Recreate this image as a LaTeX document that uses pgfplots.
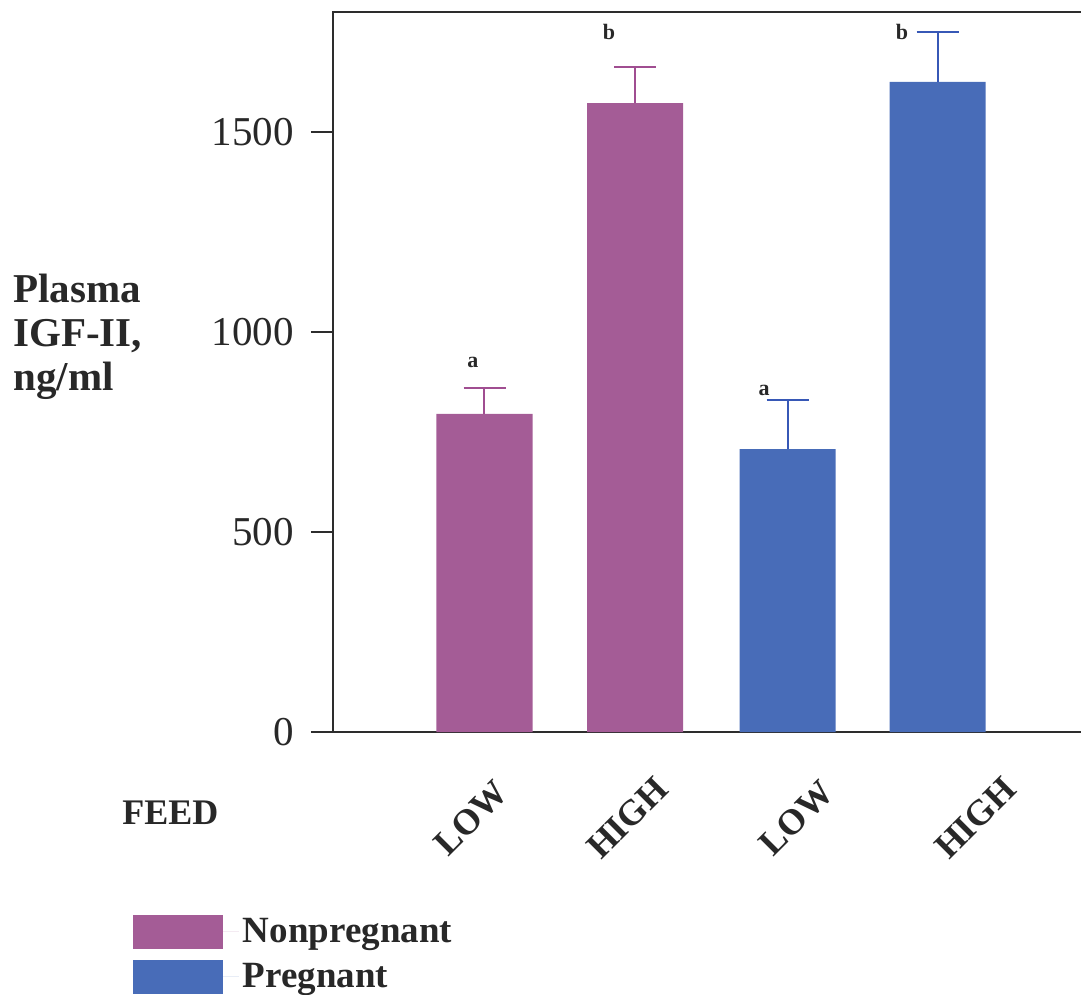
\documentclass[border=0pt]{standalone}
\usepackage{pgfplots}
\pgfplotsset{compat=1.18}
\usepackage{fontspec}
\setmainfont{Liberation Serif}
\definecolor{npink}{RGB}{164,92,150}
\definecolor{pblue}{RGB}{72,108,184}
\definecolor{npinkerr}{RGB}{160,78,145}
\definecolor{pblueerr}{RGB}{55,88,182}
\definecolor{axgray}{RGB}{45,45,45}
\definecolor{txt}{RGB}{40,40,40}

\pgfplotstableread{
x y e
484.5 795 65
635 1572 90
}\nonpreg
\pgfplotstableread{
x y e
787.5 707 123
937.5 1625 125
}\preg
\pgfplotstableread{
x y l
473 912 a
609 1730 b
764 840 a
902 1730 b
}\letters
\pgfplotstableread{
x y
322 500
322 1000
322 1500
}\yticksat

\begin{document}
\begin{tikzpicture}[x=1pt,y=1pt]
\useasboundingbox (-166.5,-131.5) rectangle (374,366);
\begin{axis}[
  at={(0,0)}, anchor=south west,
  scale only axis, width=380pt, height=360pt,
  xmin=333, xmax=1093, ymin=0, ymax=1800,
  clip=false,
  axis line style={axgray, line width=1.3pt},
  ytick={0,500,1000,1500},
  yticklabels={0,500,1000,1500},
  ytick pos=left,
  tick align=outside,
  major tick length=11pt,
  major tick style={draw=axgray, line width=1.3pt},
  yticklabel shift=5pt,
  yticklabel style={font=\fontsize{20.5}{24}\selectfont, text=txt},
  xtick={471,627.5,796.5,975.5},
  xticklabels={LOW,HIGH,LOW,HIGH},
  xtick pos=bottom,
  xtick style={draw=none},
  xticklabel style={font=\bfseries\fontsize{18}{20}\selectfont, text=txt, yshift=-32pt, rotate=45, anchor=center},
  legend image code/.code={\fill[#1] (0pt,-8.5pt) rectangle (45pt,8.5pt); \path (0pt,0pt) -- (53pt,0pt);},
  legend cell align=left,
  legend style={draw=none, fill=none, at={(-0.2632,-0.2528)}, anchor=north west,
    inner sep=0pt, outer sep=0pt, row sep=5pt,
    font=\bfseries\fontsize{18.5}{20}\selectfont, text=txt},
]
\addplot[ybar, bar shift=0pt, bar width=96, fill=npink, draw=none,
  error bars/.cd, y dir=plus, y explicit,
  error bar style={npinkerr, line width=1pt},
  error mark options={rotate=90, mark size=10.5pt, npinkerr, line width=1pt}]
  table[x=x, y=y, y error=e] {\nonpreg};
\addlegendentry{Nonpregnant}
\addplot[ybar, bar shift=0pt, bar width=96, fill=pblue, draw=none,
  error bars/.cd, y dir=plus, y explicit,
  error bar style={pblueerr, line width=1pt},
  error mark options={rotate=90, mark size=10.5pt, pblueerr, line width=1pt}]
  table[x=x, y=y, y error=e] {\preg};
\addlegendentry{Pregnant}
\addplot[draw=none, mark=none, forget plot, nodes near coords, point meta=explicit symbolic,
  nodes near coords style={anchor=base, inner sep=0pt, font=\bfseries\fontsize{11}{12}\selectfont, text=txt}]
  table[x=x, y=y, meta=l] {\letters};
\addplot[only marks, forget plot, mark=-, mark size=5.5pt,
  mark options={draw=axgray, line width=1.3pt}]
  table[x=x, y=y] {\yticksat};
\end{axis}
\node[anchor=north west, align=left, inner sep=0pt, font=\bfseries\fontsize{20.5}{22}\selectfont, text=txt]
  at (-160,229) {Plasma\\IGF-II,\\ng/ml};
\node[anchor=base west, inner sep=0pt, font=\bfseries\fontsize{18}{20}\selectfont, text=txt]
  at (-105.5,-46) {FEED};
\end{tikzpicture}
\end{document}
